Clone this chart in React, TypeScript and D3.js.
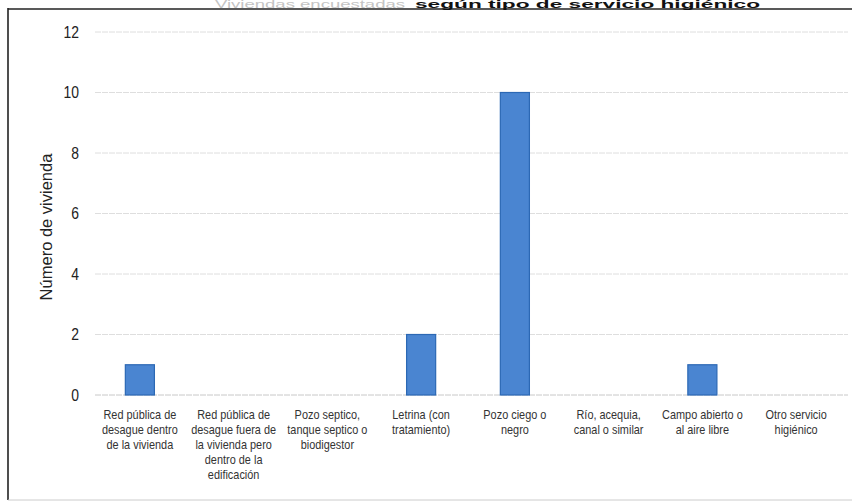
import React from "react";
import * as d3 from "d3";

const categories: string[][] = [
  ["Red pública de", "desague dentro", "de la vivienda"],
  ["Red pública de", "desague fuera de", "la vivienda pero", "dentro de la", "edificación"],
  ["Pozo septico,", "tanque septico o", "biodigestor"],
  ["Letrina (con", "tratamiento)"],
  ["Pozo ciego o", "negro"],
  ["Río, acequia,", "canal o similar"],
  ["Campo abierto o", "al aire libre"],
  ["Otro servicio", "higiénico"],
];
const values: number[] = [1, 0, 0, 2, 10, 0, 1, 0];
const yTicks: number[] = [0, 2, 4, 6, 8, 10, 12];
const titleLead = "Viviendas encuestadas";
const titleTail = "según tipo de servicio higiénico";
const yTitle = "Número de vivienda";

const W = 852;
const H = 503;
const FONT = "'Liberation Sans', Arial, sans-serif";

export default function App() {
  const ids = categories.map((_, i) => String(i));
  const x = d3.scaleBand<string>().domain(ids).range([93, 843]).paddingInner(0.69).paddingOuter(0.345);
  const y = d3.scaleLinear().domain([0, 12]).range([395, 32]);

  return (
    <svg
      width={W}
      height={H}
      style={{ position: "absolute", left: 0, top: 0, background: "#fff" }}
      fontFamily={FONT}
    >
      {/* frame */}
      <line x1={8} x2={852} y1={9} y2={9} stroke="#222" strokeWidth={1.6} />
      <line x1={8} x2={8} y1={8} y2={500} stroke="#222" strokeWidth={1.6} />
      <line x1={8} x2={852} y1={500} y2={500} stroke="#ccc" strokeWidth={1} />

      {/* title */}
      <text x={215} y={7.5} fontSize={10} fill="#c4c4c4" textLength={190} lengthAdjust="spacingAndGlyphs">
        {titleLead}
      </text>
      <text x={415} y={7.5} fontSize={10} fontWeight="bold" fill="#111" textLength={345} lengthAdjust="spacingAndGlyphs">
        {titleTail}
      </text>

      {/* gridlines */}
      {yTicks.map((t) => (
        <line
          key={t}
          x1={95}
          x2={848}
          y1={y(t)}
          y2={y(t)}
          stroke={t === 0 ? "#c8c8c8" : "#dedede"}
          strokeWidth={1}
          strokeDasharray="6 1"
        />
      ))}

      {/* y tick labels */}
      {yTicks.map((t) => (
        <text
          key={t}
          transform={`translate(79,${y(t)}) scale(0.82,1)`}
          dy="0.35em"
          textAnchor="end"
          fontSize={17}
          fill="#222"
        >
          {t}
        </text>
      ))}

      {/* y axis title */}
      <text transform="translate(52,227) rotate(-90)" textAnchor="middle" fontSize={16.5} fill="#222">
        {yTitle}
      </text>

      {/* bars */}
      {values.map((v, i) =>
        v > 0 ? (
          <rect
            key={i}
            x={x(ids[i])!}
            y={y(v)}
            width={x.bandwidth()}
            height={y(0) - y(v)}
            fill="#4a85d1"
            stroke="#2c68b4"
            strokeWidth={1.2}
          />
        ) : null
      )}

      {/* category labels */}
      {categories.map((lines, i) => (
        <g key={i} transform={`translate(${x(ids[i])! + x.bandwidth() / 2},419) scale(0.84,1)`}>
          <text textAnchor="middle" fontSize={13} fill="#333">
            {lines.map((l, j) => (
              <tspan key={j} x={0} dy={j === 0 ? 0 : 15}>
                {l}
              </tspan>
            ))}
          </text>
        </g>
      ))}
    </svg>
  );
}
